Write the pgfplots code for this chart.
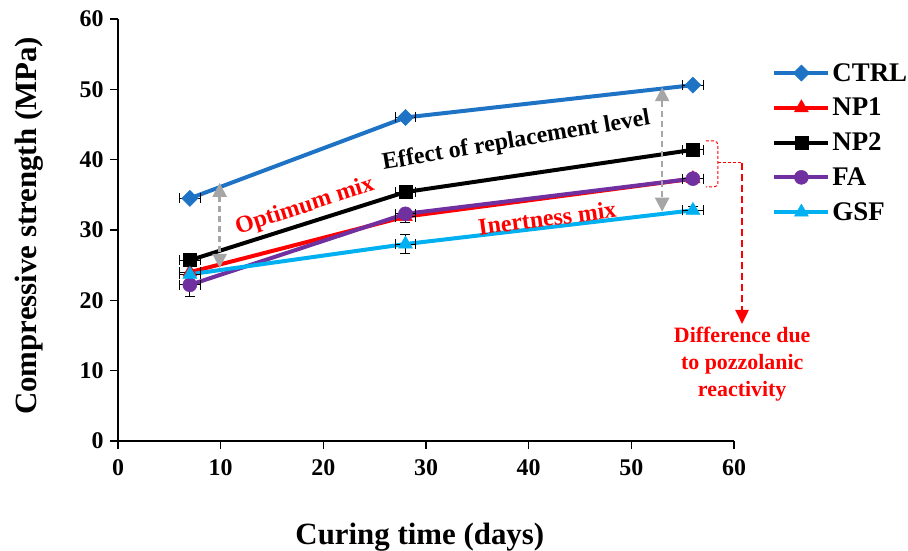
\documentclass[border=0pt]{standalone}
\usepackage{fontspec}
\setmainfont{Liberation Serif}
\usepackage{pgfplots}
\pgfplotsset{compat=1.18}
\usetikzlibrary{arrows.meta}
\definecolor{ctrl}{RGB}{30,115,196}
\definecolor{gsf}{RGB}{0,176,240}
\definecolor{fa}{RGB}{112,48,160}
\definecolor{arrgray}{RGB}{166,166,166}

\pgfplotstableread{
x y ex ey
7 34.5 1 0
28 46.0 1 0
56 50.6 1 0
}\ctrl
\pgfplotstableread{
x y ex ey
7 24.0 1 0
28 31.9 1 0.8
56 37.3 1 0
}\npone
\pgfplotstableread{
x y ex ey
7 25.7 1 0
28 35.4 1 0
56 41.4 1 0
}\nptwo
\pgfplotstableread{
x y ex ey
7 22.2 1 1.7
28 32.3 1 0
56 37.3 1 0
}\fa
\pgfplotstableread{
x y ex ey
7 23.7 1 0
28 28.0 1 1.3
56 32.8 1 0.5
}\gsf

\begin{document}
\begin{tikzpicture}
\begin{axis}[
  name=ax,
  scale only axis, width=616bp, height=422bp,
  xmin=0, xmax=60, ymin=0, ymax=60,
  xtick={0,10,...,60}, ytick={0,10,...,60},
  axis x line*=bottom, axis y line*=left,
  axis line style={-, line width=1.2bp, black},
  tick align=outside, major tick length=8bp,
  tick style={black, line width=1.2bp},
  /pgf/number format/assume math mode=true,
  ticklabel style={font=\fontsize{24}{24}\selectfont\bfseries},
  xticklabel style={yshift=-7bp},
  yticklabel style={xshift=-3bp},
  xlabel={Curing time (days)},
  ylabel={Compressive strength (MPa)},
  label style={font=\fontsize{31}{31}\selectfont\bfseries},
  xlabel style={at={(axis description cs:0.49,-0.246)}, anchor=base},
  ylabel style={at={(axis description cs:-0.133,0.51)}, anchor=base, rotate=0},
  clip=false,
  legend style={draw=none, fill=none, at={(axis description cs:1.062,0.90)}, anchor=north west,
    font=\fontsize{27}{30}\selectfont\bfseries, row sep=11.5bp, inner sep=0pt},
  legend cell align=left,
  legend image code/.code={\draw[#1, mark repeat=2, mark phase=2] plot coordinates {(0bp,0bp) (27bp,0bp) (54bp,0bp)};},
  every axis plot/.append style={line width=4bp},
  error bars/error bar style={black, line width=1bp, solid},
  error bars/error mark options={black, mark size=5bp, line width=1bp, rotate=90},
]
\addplot[ctrl, mark=square*, mark size=5.7bp, mark options={rotate=45, solid, fill=ctrl, line width=0.5bp},
  error bars/.cd, x dir=both, x explicit, y dir=both, y explicit]
  table[x=x, y=y, x error=ex, y error=ey] {\ctrl};
\addlegendentry{CTRL}
\addplot[red, mark=triangle*, mark size=8bp, mark options={solid, fill=red, line width=0.5bp},
  error bars/.cd, x dir=both, x explicit, y dir=both, y explicit]
  table[x=x, y=y, x error=ex, y error=ey] {\npone};
\addlegendentry{NP1}
\addplot[black, mark=square*, mark size=6.5bp, mark options={solid, fill=black, line width=0.5bp},
  error bars/.cd, x dir=both, x explicit, y dir=both, y explicit]
  table[x=x, y=y, x error=ex, y error=ey] {\nptwo};
\addlegendentry{NP2}
\addplot[fa, mark=*, mark size=7bp, mark options={solid, fill=fa, line width=0.5bp},
  error bars/.cd, x dir=both, x explicit, y dir=both, y explicit]
  table[x=x, y=y, x error=ex, y error=ey] {\fa};
\addlegendentry{FA}
\addplot[gsf, mark=triangle*, mark size=8bp, mark options={solid, fill=gsf, line width=0.5bp},
  error bars/.cd, x dir=both, x explicit, y dir=both, y explicit]
  table[x=x, y=y, x error=ex, y error=ey] {\gsf};
\addlegendentry{GSF}

% annotations
\node[rotate=18, red, font=\fontsize{24}{24}\selectfont\bfseries] at (axis cs:18.2,33.3) {Optimum mix};
\node[rotate=9.6, black, font=\fontsize{24}{24}\selectfont\bfseries] at (axis cs:38.8,42.6) {Effect of replacement level};
\node[rotate=7.5, red, font=\fontsize{24}{24}\selectfont\bfseries] at (axis cs:41.8,31.7) {Inertness mix};

\draw[arrgray, line width=2.5bp, dash pattern=on 6bp off 4bp,
  {Triangle[width=14bp,length=14bp]}-{Triangle[width=14bp,length=14bp]}]
  (axis cs:9.9,36.7) -- (axis cs:9.9,24.6);
\draw[arrgray, line width=2.5bp, dash pattern=on 6bp off 4bp,
  {Triangle[width=14bp,length=14bp]}-{Triangle[width=14bp,length=14bp]}]
  (axis cs:53.0,50.3) -- (axis cs:53.0,32.6);

\draw[red, line width=1bp, dash pattern=on 3bp off 2bp, rounded corners=4bp]
  (axis cs:57.27,42.66) -- (axis cs:58.44,42.66) -- (axis cs:58.44,36.12) -- (axis cs:57.27,36.12);
\draw[red, line width=1bp, dash pattern=on 3bp off 2bp]
  (axis cs:58.44,39.53) -- (axis cs:60.78,39.53);
\draw[red, line width=2.5bp, dash pattern=on 7bp off 4bp, -{Triangle[width=13bp,length=14bp]}]
  (axis cs:60.78,39.53) -- (axis cs:60.78,16.64);

\node[red, align=center, font=\fontsize{22}{27}\selectfont\bfseries] at (axis cs:60.8,10.95)
  {Difference due\\to pozzolanic\\reactivity};
\end{axis}
\pgfresetboundingbox
\path ([xshift=-118bp,yshift=-109bp]ax.south west) rectangle ([xshift=174bp,yshift=19bp]ax.north east);
\end{tikzpicture}
\end{document}
